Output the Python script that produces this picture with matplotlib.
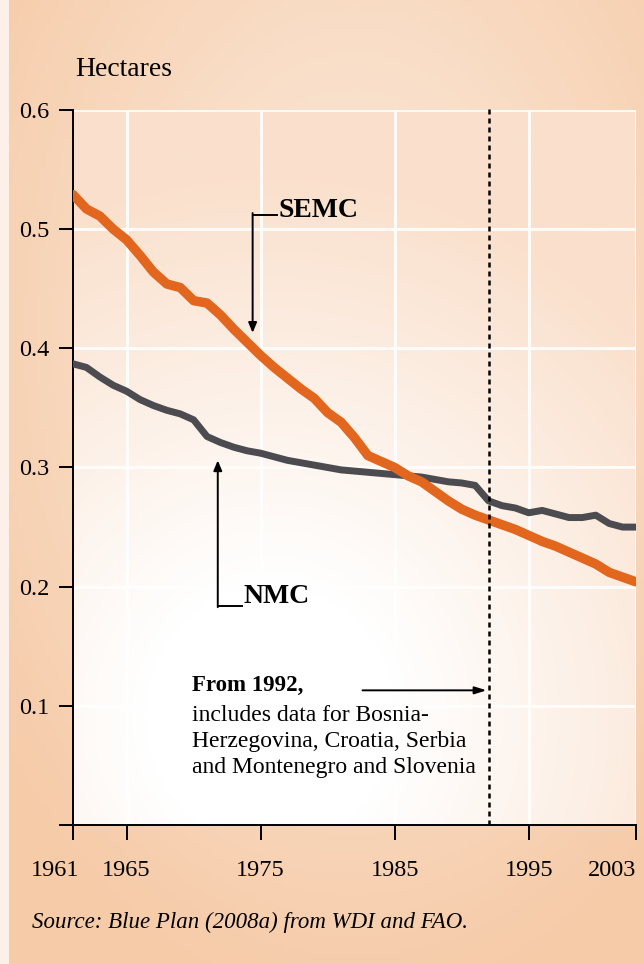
import numpy as np
import matplotlib
matplotlib.use("Agg")
import matplotlib.pyplot as plt
import matplotlib.transforms as mtransforms

plt.rcParams['font.family'] = ['Liberation Serif', 'DejaVu Serif']

# ---------------- data ----------------
years = list(range(1961, 2004))
semc = [0.529, 0.517, 0.511, 0.500, 0.491, 0.478, 0.464, 0.454, 0.451, 0.440,
        0.438, 0.428, 0.416, 0.405, 0.394, 0.384, 0.375, 0.366, 0.358, 0.346,
        0.338, 0.325, 0.310, 0.305, 0.300, 0.293, 0.288, 0.280, 0.272, 0.265,
        0.260, 0.256, 0.252, 0.248, 0.243, 0.238, 0.234, 0.229, 0.224, 0.219,
        0.212, 0.208, 0.204]
nmc = [0.387, 0.384, 0.376, 0.369, 0.364, 0.357, 0.352, 0.348, 0.345, 0.340,
       0.326, 0.321, 0.317, 0.314, 0.312, 0.309, 0.306, 0.304, 0.302, 0.300,
       0.298, 0.297, 0.296, 0.295, 0.294, 0.293, 0.292, 0.290, 0.288, 0.287,
       0.285, 0.272, 0.268, 0.266, 0.262, 0.264, 0.261, 0.258, 0.258, 0.260,
       0.253, 0.250, 0.250]
xticks = [1961, 1965, 1975, 1985, 1995, 2003]
yticks = [0.1, 0.2, 0.3, 0.4, 0.5, 0.6]
ytick_labels = ["0.1", "0.2", "0.3", "0.4", "0.5", "0.6"]
break_year = 1992

W, H = 644, 964
fig = plt.figure(figsize=(W / 100, H / 100), dpi=100)

# ---------------- figure background gradient ----------------
bg = fig.add_axes([0, 0, 1, 1], zorder=-10)
yy, xx = np.mgrid[0:1:200j, 0:1:140j]   # yy: 0 top -> 1 bottom
light = np.array([253, 242, 233]) / 255
peach = np.array([246, 203, 168]) / 255
d = np.sqrt(((xx - 0.55) / 0.75) ** 2 + ((yy - 0.35) / 0.75) ** 2)
w = np.clip(0.15 + 0.9 * d, 0, 1)[..., None]
img = light * (1 - w) + peach * w
img[:, :2] = np.array([252, 240, 232]) / 255
bg.imshow(img, extent=[0, 1, 0, 1], aspect='auto', origin='upper')
bg.set_xlim(0, 1); bg.set_ylim(0, 1)
bg.axis('off')

# ---------------- main axes ----------------
x0, x1, y0, y1 = 73, 636, 110, 825
ax = fig.add_axes([x0 / W, 1 - y1 / H, (x1 - x0) / W, (y1 - y0) / H])
ax.patch.set_alpha(0)
ax.set_xlim(1961, 2003)
ax.set_ylim(0, 0.6)

# plot-area gradient (white at lower left, peach to top/right)
gy, gx = np.mgrid[0:1:200j, 0:1:200j]  # gy 0 top
pw = np.array([255, 255, 255]) / 255
pp = np.array([250, 224, 204]) / 255
dd = np.sqrt(((gx - 0.35) / 0.9) ** 2 + ((gy - 0.85) / 0.75) ** 2)
ww = np.clip((dd - 0.25) * 1.3, 0, 1)[..., None]
pimg = pw * (1 - ww) + pp * ww
ax.imshow(pimg, extent=[1961, 2003, 0, 0.6], aspect='auto', origin='upper', zorder=0)

# grid
for xv in xticks[1:]:
    ax.axvline(xv, color='white', lw=2.2, alpha=0.85, zorder=1)
for yv in yticks:
    ax.axhline(yv, color='white', lw=2.2, alpha=0.85, zorder=1)

# lines
ax.plot(years, nmc, color='#4b4b50', lw=5.0, solid_capstyle='round', zorder=3)
ax.plot(years, semc, color='#e2661e', lw=6.8, solid_capstyle='round', zorder=4)

# dashed 1992 line
ax.axvline(break_year, ymin=0, ymax=1.005, color='black', lw=1.8,
           linestyle=(0, (2.0, 1.6)), clip_on=False, zorder=5)

# spines & ticks
for s in ['top', 'right']:
    ax.spines[s].set_visible(False)
ax.spines['left'].set_linewidth(1.4)
ax.spines['bottom'].set_linewidth(1.4)
ax.spines['bottom'].set_bounds(1960.0, 2003)
ax.spines['left'].set_bounds(0, 0.6)
ax.set_xticks(xticks)
ax.set_xticklabels([str(v) for v in xticks])
ax.set_yticks(yticks)
ax.set_yticklabels(ytick_labels)
ax.tick_params(axis='x', direction='out', length=11, width=1.4, pad=14,
               labelsize=17.5, colors='black')
ax.tick_params(axis='y', direction='out', length=10, width=1.4, pad=7,
               labelsize=17.5, colors='black')
labs = ax.get_xticklabels()
labs[0].set_transform(labs[0].get_transform() +
                      mtransforms.ScaledTranslation(-18 / 100, 0, fig.dpi_scale_trans))
labs[-1].set_horizontalalignment('right')

# annotations
sc = dict(color='black', lw=1.4)
ax.plot([1974.4, 1976.2], [0.512, 0.512], **sc, zorder=6)
ax.annotate('', xy=(1974.4, 0.413), xytext=(1974.4, 0.5135),
            arrowprops=dict(arrowstyle='-|>,head_length=0.6,head_width=0.25',
                            color='black', lw=1.4, shrinkA=0, shrinkB=0), zorder=6)
ax.text(1976.3, 0.516, 'SEMC', fontsize=20, fontweight='bold', va='center', ha='left')

ax.plot([1971.8, 1973.6], [0.184, 0.184], **sc, zorder=6)
ax.annotate('', xy=(1971.8, 0.306), xytext=(1971.8, 0.1828),
            arrowprops=dict(arrowstyle='-|>,head_length=0.6,head_width=0.25',
                            color='black', lw=1.4, shrinkA=0, shrinkB=0), zorder=6)
ax.text(1973.75, 0.192, 'NMC', fontsize=20, fontweight='bold', va='center', ha='left')

ax.annotate('', xy=(break_year - 0.15, 0.113), xytext=(1982.6, 0.113),
            arrowprops=dict(arrowstyle='-|>,head_length=0.7,head_width=0.22',
                            color='black', lw=1.4, shrinkA=0, shrinkB=0), zorder=6)
ax.text(1969.9, 0.1175, 'From 1992,', fontsize=16.5, fontweight='bold',
        va='center', ha='left')
ax.text(1969.9, 0.0700,
        'includes data for Bosnia-\nHerzegovina, Croatia, Serbia\nand Montenegro and Slovenia',
        fontsize=17, va='center', ha='left', linespacing=1.3)

# outer texts
fig.text(75 / W, 1 - 70 / H, 'Hectares', fontsize=20, va='center', ha='left')
fig.text(32 / W, 1 - 922 / H, 'Source: Blue Plan (2008a) from WDI and FAO.',
         fontsize=16.5, style='italic', va='center', ha='left')

fig.savefig('out.png', dpi=100)
